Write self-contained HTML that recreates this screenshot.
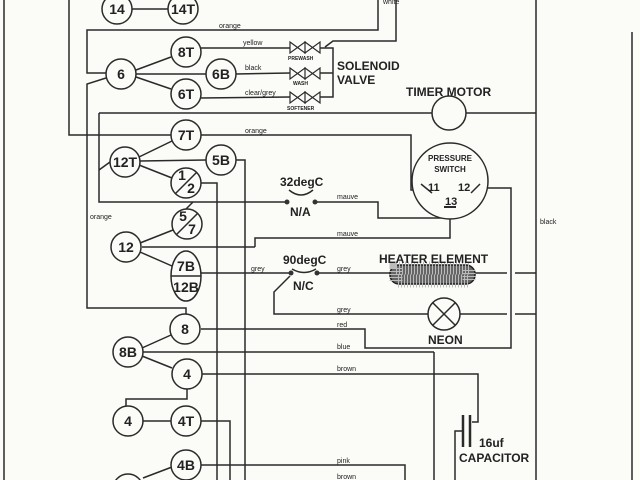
<!DOCTYPE html>
<html><head><meta charset="utf-8"><style>
html,body{margin:0;padding:0;background:#fbfbf8;}
svg{display:block;}
text{font-family:"Liberation Sans",sans-serif;fill:#222;}
.n{font-size:14px;font-weight:bold;text-anchor:middle;}
.s{font-size:7px;}
.b{font-size:12px;font-weight:bold;}
</style></head><body>
<svg width="640" height="480" viewBox="0 0 640 480" xmlns="http://www.w3.org/2000/svg">
<g fill="none" stroke="#2a2a2a" stroke-width="1.5">
<line x1="4" y1="0" x2="4" y2="480"/>
<line x1="632" y1="32" x2="632" y2="480"/>
<line x1="536" y1="0" x2="536" y2="480"/>
<line x1="132" y1="9" x2="168" y2="9"/>
<polyline points="378,0 378,30 87,30 87,73 106,73"/>
<polyline points="396,0 396,41 333,41 325,47"/>
<polyline points="106,78 87,84 87,308 186,308 186,314"/>
<line x1="136" y1="70" x2="171" y2="57"/>
<line x1="136" y1="74" x2="206" y2="74"/>
<line x1="136" y1="77" x2="171" y2="89"/>
<line x1="201" y1="48" x2="290" y2="48"/>
<line x1="236" y1="74" x2="290" y2="73"/>
<line x1="201" y1="98" x2="290" y2="97"/>
<polyline points="320,48 333,48 333,97 320,97"/>
<line x1="320" y1="73" x2="333" y2="73"/>
<polyline points="69,0 69,135 171,135"/>
<polyline points="201,135 411,135 411,190 430,190"/>
<polyline points="99,113 432,113"/>
<line x1="466" y1="113" x2="536" y2="113"/>
<polyline points="99,113 99,202 287,202"/>
<line x1="110" y1="162" x2="99" y2="170"/>
<line x1="139" y1="157" x2="172" y2="141"/>
<line x1="140" y1="161" x2="206" y2="160"/>
<line x1="139" y1="165" x2="172" y2="178"/>
<polyline points="236,160 245,160 245,480"/>
<polyline points="201,183 217,183 217,480"/>
<line x1="193" y1="202" x2="186" y2="209"/>
<line x1="140" y1="243" x2="173" y2="230"/>
<line x1="142" y1="247" x2="255" y2="247"/>
<polyline points="255,247 255,238 450,238 450,212"/>
<line x1="140" y1="252" x2="172" y2="266"/>
<polyline points="315,202 378,202 378,218 442,218 448,212"/>
<path d="M289,190 Q301,200 313,190"/>
<line x1="172" y1="273" x2="290" y2="273"/>
<line x1="317" y1="273" x2="390" y2="273"/>
<line x1="475" y1="273" x2="507" y2="273"/>
<line x1="515" y1="273" x2="536" y2="273"/>
<path d="M292,269 Q304,276 316,269"/>
<polyline points="290,276 274,292 274,314 428,314"/>
<line x1="460" y1="314" x2="507" y2="314"/>
<line x1="515" y1="314" x2="536" y2="314"/>
<polyline points="483,188 511,188 511,348 365,348 365,329 201,329"/>
<line x1="142" y1="348" x2="171" y2="335"/>
<line x1="143" y1="352" x2="434" y2="352"/>
<line x1="434" y1="352" x2="434" y2="480"/>
<line x1="142" y1="356" x2="172" y2="368"/>
<polyline points="201,374 478,374 478,422 472,422"/>
<polyline points="187,389 187,399 126,399 126,406"/>
<polyline points="463,431 455,431 455,480"/>
<line x1="143" y1="421" x2="171" y2="421"/>
<polyline points="201,421 230,421 230,480"/>
<polyline points="201,465 405,465 405,480"/>
<line x1="143" y1="478" x2="172" y2="467"/>
<g fill="#fbfbf8">
<circle cx="117" cy="9" r="15"/><circle cx="183" cy="9" r="15"/>
<circle cx="121" cy="74" r="15"/><circle cx="186" cy="52" r="15"/>
<circle cx="221" cy="74" r="15"/><circle cx="186" cy="94" r="15"/>
<circle cx="186" cy="135" r="15"/><circle cx="125" cy="162" r="15"/>
<circle cx="221" cy="160" r="15"/><circle cx="186" cy="183" r="15"/>
<circle cx="187" cy="224" r="15"/><circle cx="126" cy="247" r="15"/>
<ellipse cx="186" cy="276" rx="15" ry="25"/>
<circle cx="185" cy="329" r="15"/><circle cx="128" cy="352" r="15"/>
<circle cx="187" cy="374" r="15"/><circle cx="128" cy="421" r="15"/>
<circle cx="186" cy="421" r="15"/><circle cx="186" cy="465" r="15"/>
<circle cx="128" cy="489" r="15"/>
<circle cx="449" cy="113" r="17"/>
<circle cx="450" cy="181" r="38"/>
<circle cx="444" cy="314" r="16"/>
</g>
<line x1="175" y1="194" x2="197" y2="172"/>
<line x1="176" y1="235" x2="198" y2="213"/>
<line x1="171" y1="276" x2="201" y2="276"/>
<line x1="433" y1="303" x2="455" y2="325"/><line x1="455" y1="303" x2="433" y2="325"/>
<line x1="421" y1="184" x2="432" y2="193"/>
<line x1="471" y1="193" x2="480" y2="184"/>
<line x1="444" y1="207" x2="456" y2="207" stroke-width="2"/>
<g stroke-width="1.2">
<path d="M290,42 L305,53 L305,42 L290,53 Z M305,42 L320,53 L320,42 L305,53 Z"/>
<path d="M290,68 L305,79 L305,68 L290,79 Z M305,68 L320,79 L320,68 L305,79 Z"/>
<path d="M290,92 L305,103 L305,92 L290,103 Z M305,92 L320,103 L320,92 L305,103 Z"/>
</g>
<line x1="463" y1="415" x2="463" y2="447" stroke-width="2.5"/>
<line x1="470" y1="415" x2="470" y2="447" stroke-width="2.5"/>
</g>
<g fill="#333">
<circle cx="287" cy="202" r="2.5"/><circle cx="315" cy="202" r="2.5"/>
<circle cx="291" cy="273" r="2.5"/><circle cx="317" cy="273" r="2.5"/>
</g>
<rect x="390" y="265" width="85" height="19" rx="9" fill="#666" stroke="#222" stroke-width="1.5"/>
<rect x="396" y="268" width="73" height="13" fill="none" stroke="#bbb" stroke-dasharray="1 2" stroke-width="13"/>
<g class="n">
<text x="117" y="14">14</text><text x="183" y="14">14T</text>
<text x="121" y="79">6</text><text x="186" y="57">8T</text>
<text x="221" y="79">6B</text><text x="186" y="99">6T</text>
<text x="186" y="140">7T</text><text x="125" y="167">12T</text>
<text x="221" y="165">5B</text>
<text x="182" y="180">1</text><text x="191" y="193">2</text>
<text x="183" y="221">5</text><text x="192" y="234">7</text>
<text x="126" y="252">12</text>
<text x="186" y="271">7B</text><text x="186" y="292">12B</text>
<text x="185" y="334">8</text><text x="128" y="357">8B</text>
<text x="187" y="379">4</text><text x="128" y="426">4</text>
<text x="186" y="426">4T</text><text x="186" y="470">4B</text>
</g>
<g class="s">
<text x="219" y="28">orange</text>
<text x="243" y="45">yellow</text>
<text x="245" y="70">black</text>
<text x="245" y="95">clear/grey</text>
<text x="245" y="133">orange</text>
<text x="383" y="4">white</text>
<text x="90" y="219">orange</text>
<text x="337" y="199">mauve</text>
<text x="337" y="236">mauve</text>
<text x="251" y="271">grey</text>
<text x="337" y="271">grey</text>
<text x="337" y="312">grey</text>
<text x="337" y="327">red</text>
<text x="337" y="349">blue</text>
<text x="337" y="371">brown</text>
<text x="337" y="463">pink</text>
<text x="540" y="224">black</text>
<text x="337" y="479">brown</text>
</g>
<g style="font-size:5px;font-weight:bold">
<text x="288" y="60">PREWASH</text>
<text x="293" y="85">WASH</text>
<text x="287" y="110">SOFTENER</text>
</g>
<text class="b" x="337" y="70">SOLENOID</text>
<text class="b" x="337" y="84">VALVE</text>
<text class="b" x="406" y="96">TIMER MOTOR</text>
<text x="450" y="161" style="font-size:8px;font-weight:bold;text-anchor:middle">PRESSURE</text>
<text x="450" y="172" style="font-size:8px;font-weight:bold;text-anchor:middle">SWITCH</text>
<text x="428" y="191" style="font-size:11px;font-weight:bold">11</text>
<text x="458" y="191" style="font-size:11px;font-weight:bold">12</text>
<text x="445" y="205" style="font-size:11px;font-weight:bold">13</text>
<text class="b" x="280" y="186">32degC</text>
<text class="b" x="290" y="216">N/A</text>
<text class="b" x="283" y="264">90degC</text>
<text class="b" x="293" y="290">N/C</text>
<text class="b" x="379" y="263">HEATER ELEMENT</text>
<text class="b" x="428" y="344">NEON</text>
<text class="b" x="479" y="447">16uf</text>
<text class="b" x="459" y="462">CAPACITOR</text>
</svg>
</body></html>
